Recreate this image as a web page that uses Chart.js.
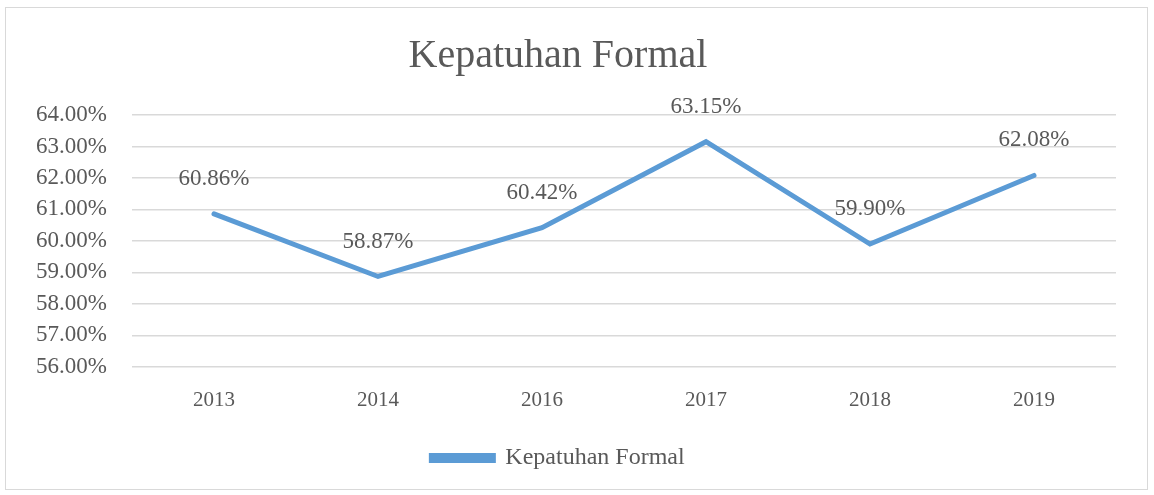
<!DOCTYPE html>
<html><head><meta charset="utf-8">
<script src="https://cdn.jsdelivr.net/npm/chart.js@4/dist/chart.umd.min.js"></script>
<style>
html,body{margin:0;padding:0;background:#fff;}
#wrap{position:absolute;left:0;top:0;width:1154px;height:495px;}
#frame{position:absolute;left:5px;top:7px;width:1143px;height:483px;border:1px solid #d9d9d9;box-sizing:border-box;pointer-events:none;}
</style></head>
<body>
<div id="wrap"><canvas id="c" width="1154" height="495"></canvas><div id="frame"></div></div>
<script>
const categories = ['2013','2014','2016','2017','2018','2019'];
const seriesName = 'Kepatuhan Formal';
const values = [60.86, 58.87, 60.42, 63.15, 59.90, 62.08];
const yMin = 56, yMax = 64, yStep = 1;
const titleText = 'Kepatuhan Formal';

const FONT = "'Liberation Serif', 'DejaVu Serif', serif";
const TXT = '#595959';
const LINE = '#5B9BD5';

const labelPlugin = {
  id: 'valueLabels',
  afterDatasetsDraw(chart) {
    const ctx = chart.ctx;
    const meta = chart.getDatasetMeta(0);
    ctx.save();
    ctx.font = "23px " + FONT;
    ctx.fillStyle = TXT;
    ctx.textAlign = 'center';
    ctx.textBaseline = 'middle';
    meta.data.forEach((pt, i) => {
      ctx.fillText(values[i].toFixed(2) + '%', pt.x, pt.y - 35);
    });
    ctx.restore();
  }
};

new Chart(document.getElementById('c'), {
  type: 'line',
  data: {
    labels: categories,
    datasets: [{
      label: seriesName,
      data: values,
      borderColor: LINE,
      backgroundColor: LINE,
      borderWidth: 5,
      pointRadius: 0,
      pointHoverRadius: 0,
      tension: 0,
      borderCapStyle: 'round',
      borderJoinStyle: 'miter'
    }]
  },
  options: {
    responsive: false,
    animation: false,
    events: [],
    layout: { padding: { left: 0, right: 38, top: 20, bottom: 15 } },
    plugins: {
      title: {
        display: true,
        text: titleText,
        color: TXT,
        font: { family: FONT, size: 40, weight: 'normal' },
        padding: { top: 12, bottom: 35 }
      },
      legend: {
        position: 'bottom',
        labels: {
          color: TXT,
          font: { family: FONT, size: 24 },
          boxWidth: 62,
          boxHeight: 5,
          padding: 12
        }
      },
      tooltip: { enabled: false }
    },
    scales: {
      x: {
        offset: true,
        grid: { display: false, drawTicks: false },
        border: { display: false },
        ticks: { color: TXT, font: { family: FONT, size: 21 }, padding: 21 }
      },
      y: {
        min: yMin, max: yMax,
        ticks: {
          stepSize: yStep,
          autoSkip: false,
          color: TXT,
          font: { family: FONT, size: 23 },
          padding: 25,
          callback: v => v.toFixed(2) + '%'
        },
        grid: { color: '#d9d9d9', lineWidth: 1.5, drawTicks: false },
        border: { display: false },
        afterFit(scale) { scale.width = 132; }
      }
    }
  },
  plugins: [labelPlugin]
});
</script>
</body></html>
